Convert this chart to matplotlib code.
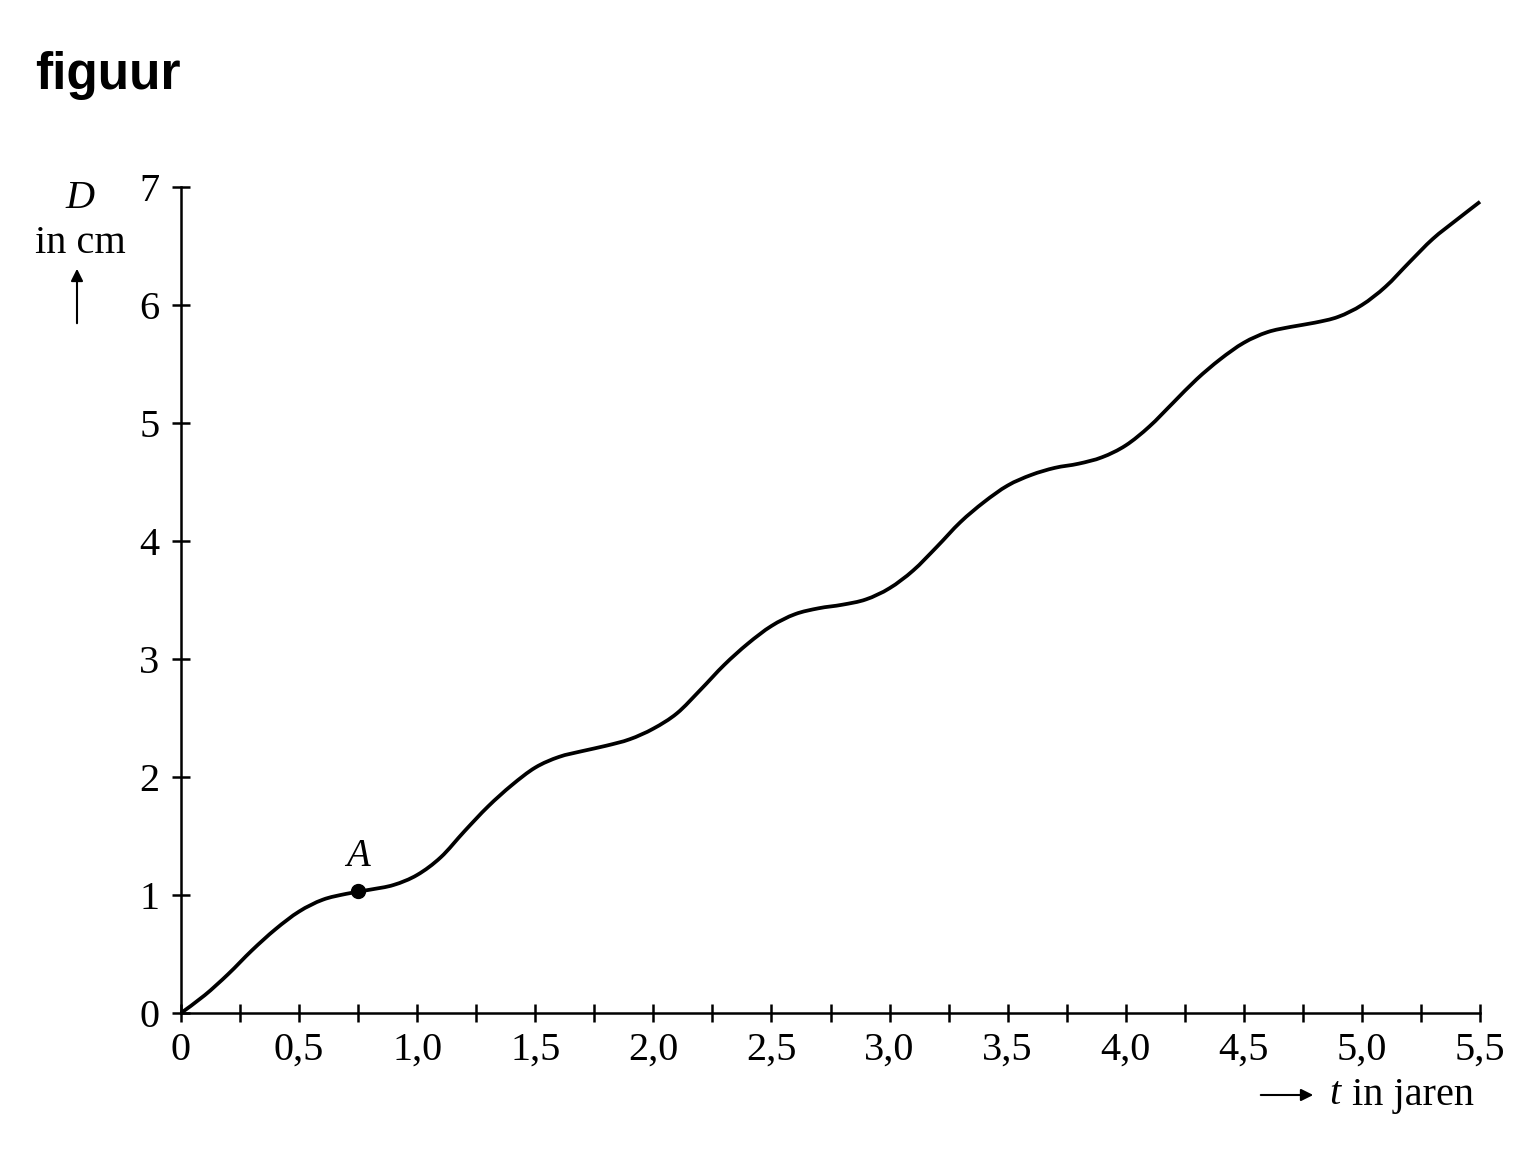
import matplotlib
matplotlib.use("Agg")
import matplotlib.pyplot as plt
from matplotlib.path import Path
from matplotlib.patches import PathPatch
from matplotlib.ticker import MultipleLocator, FuncFormatter

# D (cm) at t steps of 0.1 year
t_jaren = [0.0, 0.1, 0.2, 0.3, 0.4, 0.5, 0.6, 0.7, 0.8, 0.9,
           1.0, 1.1, 1.2, 1.3, 1.4, 1.5, 1.6, 1.7, 1.8, 1.9,
           2.0, 2.1, 2.2, 2.3, 2.4, 2.5, 2.6, 2.7, 2.8, 2.9,
           3.0, 3.1, 3.2, 3.3, 3.4, 3.5, 3.6, 3.7, 3.8, 3.9,
           4.0, 4.1, 4.2, 4.3, 4.4, 4.5, 4.6, 4.7, 4.8, 4.9,
           5.0, 5.1, 5.2, 5.3, 5.4, 5.5]
d_cm = [0.00, 0.15, 0.33, 0.53, 0.71, 0.86, 0.96, 1.01, 1.045, 1.085,
        1.17, 1.32, 1.54, 1.75, 1.93, 2.08, 2.17, 2.22, 2.265, 2.32,
        2.41, 2.54, 2.74, 2.95, 3.13, 3.28, 3.38, 3.43, 3.46, 3.505,
        3.60, 3.75, 3.95, 4.16, 4.33, 4.47, 4.56, 4.62, 4.655, 4.71,
        4.81, 4.97, 5.17, 5.37, 5.54, 5.68, 5.77, 5.815, 5.85, 5.90,
        6.00, 6.155, 6.36, 6.56, 6.72, 6.875]

punt_A = (0.75, 1.03)

serif = "Liberation Serif"
W, H = 1514, 1153


def smooth_path(xs, ys):
    # cubic bezier pieces through every read point (catmull-rom tangents)
    pts = list(zip(xs, ys))
    n = len(pts)
    verts = [pts[0]]
    codes = [Path.MOVETO]
    for i in range(n - 1):
        p0 = pts[max(i - 1, 0)]
        p1 = pts[i]
        p2 = pts[i + 1]
        p3 = pts[min(i + 2, n - 1)]
        c1 = (p1[0] + (p2[0] - p0[0]) / 6, p1[1] + (p2[1] - p0[1]) / 6)
        c2 = (p2[0] - (p3[0] - p1[0]) / 6, p2[1] - (p3[1] - p1[1]) / 6)
        verts += [c1, c2, p2]
        codes += [Path.CURVE4] * 3
    return Path(verts, codes)


fig = plt.figure(figsize=(W / 100, H / 100), dpi=100)
ax = fig.add_axes([181 / W, 1 - 1013 / H, (1480 - 181) / W, (1013 - 187) / H])

curve = PathPatch(smooth_path(t_jaren, d_cm), facecolor="none",
                  edgecolor="black", lw=2.7, capstyle="butt",
                  transform=ax.transData, clip_on=False)
ax.add_patch(curve)
ax.plot(*punt_A, "o", color="black", ms=10, clip_on=False)
ax.text(punt_A[0], punt_A[1] + 0.14, "A", family=serif, style="italic",
        fontsize=28, ha="center", va="bottom")

ax.set_xlim(0, 5.5)
ax.set_ylim(0, 7)
for s in ["top", "right"]:
    ax.spines[s].set_visible(False)
for s in ["left", "bottom"]:
    ax.spines[s].set_linewidth(1.8)

ax.xaxis.set_major_locator(MultipleLocator(0.5))
ax.xaxis.set_minor_locator(MultipleLocator(0.25))
ax.yaxis.set_major_locator(MultipleLocator(1))
ax.xaxis.set_major_formatter(FuncFormatter(
    lambda v, p: "0" if v == 0 else f"{v:.1f}".replace(".", ",")))
ax.yaxis.set_major_formatter(FuncFormatter(lambda v, p: f"{v:.0f}"))

ax.tick_params(which="both", direction="inout", length=13, width=1.8,
               labelsize=29)
ax.tick_params(axis="x", pad=7)
ax.tick_params(axis="y", pad=9)
for lab in ax.get_xticklabels() + ax.get_yticklabels():
    lab.set_family(serif)

fig.text(35 / W, 1 - 76 / H, "figuur", family="Liberation Sans",
         weight="bold", fontsize=37, va="center", ha="left")

fig.text(80 / W, 1 - 198 / H, "D", family=serif, style="italic",
         fontsize=29, ha="center", va="center")
fig.text(80 / W, 1 - 244 / H, "in cm", family=serif,
         fontsize=29, ha="center", va="center")
ax.annotate("", xy=(77 / W, 1 - 266 / H), xytext=(77 / W, 1 - 326 / H),
            xycoords="figure fraction", textcoords="figure fraction",
            arrowprops=dict(arrowstyle="-|>", color="black", lw=1.5,
                            mutation_scale=18))

ax.annotate("", xy=(1316 / W, 1 - 1095 / H), xytext=(1258 / W, 1 - 1095 / H),
            xycoords="figure fraction", textcoords="figure fraction",
            arrowprops=dict(arrowstyle="-|>", color="black", lw=1.5,
                            mutation_scale=18))
fig.text(1329 / W, 1 - 1095 / H, "t", family=serif, style="italic",
         fontsize=29, ha="left", va="center")
fig.text(1474 / W, 1 - 1095 / H, "in jaren", family=serif,
         fontsize=29, ha="right", va="center")

fig.savefig("out.png", dpi=100)
